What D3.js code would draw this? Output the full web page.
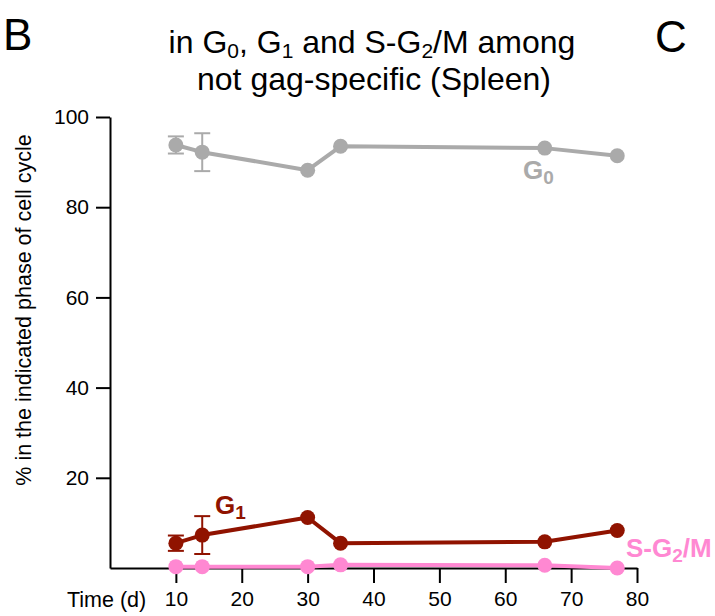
<!DOCTYPE html>
<html>
<head>
<meta charset="utf-8">
<script src="https://cdn.jsdelivr.net/npm/d3@7"></script>
<style>
  html, body { margin: 0; padding: 0; background: #fff; }
  svg { display: block; font-family: "Liberation Sans", Arial, Helvetica, sans-serif; }
</style>
</head>
<body>
<svg id="chart" width="715" height="616"></svg>
<script>
// ---- data ----
const days = [10, 14, 30, 35, 66, 77];
const g0 = [93.8, 92.2, 88.2, 93.5, 93.1, 91.4];
const g0Err = [1.9, 4.2, null, null, null, null];
const g1 = [5.5, 7.3, 11.2, 5.5, 5.8, 8.3];
const g1Err = [1.7, 4.2, null, null, null, null];
const sg2m = [0.3, 0.3, 0.3, 0.7, 0.6, 0.0];
const xTicks = [10, 20, 30, 40, 50, 60, 70, 80];
const yTicks = [20, 40, 60, 80, 100];

const svg = d3.select("#chart");
const x = d3.scaleLinear().domain([0, 80]).range([110, 637]);
const y = d3.scaleLinear().domain([0, 100]).range([568, 117]);

// axes
const yAxis = svg.append("g").attr("transform", "translate(110,0)")
  .call(d3.axisLeft(y).tickValues(yTicks).tickSize(14).tickSizeOuter(0).tickPadding(7));
const xAxis = svg.append("g").attr("transform", "translate(0,568)")
  .call(d3.axisBottom(x).tickValues(xTicks).tickSize(15).tickSizeOuter(0).tickPadding(8));
[yAxis, xAxis].forEach(a => {
  a.selectAll("path, line").attr("stroke", "#000").attr("stroke-width", 2);
  a.selectAll("text").attr("font-size", 21).attr("fill", "#000")
    .attr("font-family", "'Liberation Sans', Arial, Helvetica, sans-serif");
});

// axis labels
svg.append("text").attr("x", 67).attr("y", 607).attr("font-size", 21.5).text("Time (d)");
svg.append("text").attr("transform", "translate(31,310) rotate(-90)")
  .attr("text-anchor", "middle").attr("font-size", 21.5)
  .text("% in the indicated phase of cell cycle");

// title
const title = svg.append("text").attr("text-anchor", "middle").attr("font-size", 32);
const t1 = title.append("tspan").attr("x", 372).attr("y", 53);
t1.append("tspan").text("in G");
t1.append("tspan").attr("font-size", 21).attr("dy", 5).text("0");
t1.append("tspan").attr("dy", -5).text(", G");
t1.append("tspan").attr("font-size", 21).attr("dy", 5).text("1");
t1.append("tspan").attr("dy", -5).text(" and S-G");
t1.append("tspan").attr("font-size", 21).attr("dy", 5).text("2");
t1.append("tspan").attr("dy", -5).text("/M among");
title.append("tspan").attr("x", 374).attr("y", 90).text("not gag-specific (Spleen)");

// panel letters
svg.append("text").attr("x", 3).attr("y", 50).attr("font-size", 44).text("B");
svg.append("text").attr("x", 655).attr("y", 52).attr("font-size", 44).text("C");

// series
const series = [
  { vals: g0, err: g0Err, color: "#aaaaaa" },
  { vals: g1, err: g1Err, color: "#901300" },
  { vals: sg2m, err: null, color: "#ff88d2" }
];
const line = d3.line().x(d => x(d[0])).y(d => y(d[1]));
series.forEach(s => {
  const pts = days.map((d, i) => [d, s.vals[i]]);
  const g = svg.append("g");
  g.append("path").attr("d", line(pts)).attr("fill", "none")
    .attr("stroke", s.color).attr("stroke-width", 4).attr("stroke-linejoin", "round");
  if (s.err) {
    days.forEach((d, i) => {
      const e = s.err[i];
      if (e == null) return;
      const cx = x(d), top = y(s.vals[i] + e), bot = y(s.vals[i] - e);
      g.append("line").attr("x1", cx).attr("x2", cx).attr("y1", top).attr("y2", bot)
        .attr("stroke", s.color).attr("stroke-width", 2);
      [top, bot].forEach(yy => g.append("line").attr("x1", cx - 8).attr("x2", cx + 8)
        .attr("y1", yy).attr("y2", yy).attr("stroke", s.color).attr("stroke-width", 2));
    });
  }
  g.selectAll("circle").data(pts).join("circle")
    .attr("cx", d => x(d[0])).attr("cy", d => y(d[1])).attr("r", 7.5).attr("fill", s.color);
});

// series labels
function seriesLabel(xp, yp, main, s, rest, color) {
  const t = svg.append("text").attr("x", xp).attr("y", yp).attr("font-size", 26)
    .attr("font-weight", "bold").attr("fill", color);
  t.append("tspan").text(main);
  t.append("tspan").attr("font-size", 19).attr("dy", 5).text(s);
  if (rest) t.append("tspan").attr("dy", -5).text(rest);
}
seriesLabel(523, 179, "G", "0", null, "#aaaaaa");
seriesLabel(215, 514, "G", "1", null, "#901300");
seriesLabel(626, 557, "S-G", "2", "/M", "#ff88d2");
</script>
</body>
</html>
